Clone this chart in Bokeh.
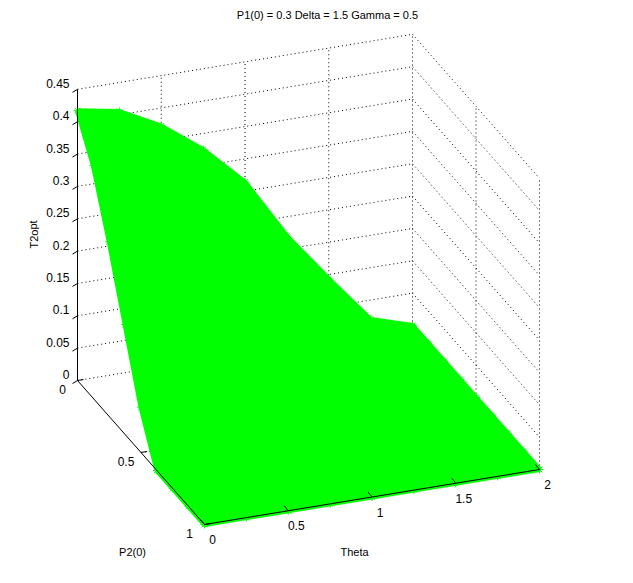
from bokeh.plotting import figure
from bokeh.models import Range1d
from bokeh.core.properties import value
from bokeh.embed import file_html
from bokeh.resources import INLINE

theta_vals = [0, 0.25, 0.5, 0.75, 1.0, 1.25, 1.5, 1.75, 2.0]
p2_vals = [0, 0.125, 0.25, 0.375, 0.5, 0.625, 0.75, 0.875, 1.0]
# T2opt[i][j]: i over theta_vals, j over p2_vals
t2opt = [
    [0.417, 0.36, 0.27, 0.17, 0.07, 0, 0, 0, 0],
    [0.405, 0.34, 0.235, 0.125, 0.01, 0, 0, 0, 0],
    [0.372, 0.31, 0.19, 0.06, 0, 0, 0, 0, 0],
    [0.325, 0.26, 0.12, 0, 0, 0, 0, 0, 0],
    [0.264, 0.16, 0.03, 0, 0, 0, 0, 0, 0],
    [0.17, 0.065, 0, 0, 0, 0, 0, 0, 0],
    [0.093, 0, 0, 0, 0, 0, 0, 0, 0],
    [0.02, 0, 0, 0, 0, 0, 0, 0, 0],
    [0, 0, 0, 0, 0, 0, 0, 0, 0],
]
z_ticks = [0, 0.05, 0.1, 0.15, 0.2, 0.25, 0.3, 0.35, 0.4, 0.45]
z_labels = ["0", "0.05", "0.1", "0.15", "0.2", "0.25", "0.3", "0.35", "0.4", "0.45"]
theta_ticks = [0, 0.5, 1, 1.5, 2]
theta_labels = ["0", "0.5", "1", "1.5", "2"]
p2_ticks = [0, 0.5, 1]
p2_labels = ["0", "0.5", "1"]

FONT = value("Liberation Sans")
GREEN = "#00ff00"


def proj(t, p, z):
    return 80 + 167.5 * t + 127 * p, 378 - 27.5 * t + 144 * p - 647 * z


p = figure(width=617, height=567, output_backend="svg", toolbar_location=None,
           x_range=Range1d(3, 620), y_range=Range1d(565, -2), min_border=0)
p.axis.visible = False
p.grid.visible = False
p.outline_line_color = None


def seg(a, b, dash="1 3", color="black"):
    x0, y0 = proj(*a)
    x1, y1 = proj(*b)
    p.line([x0, x1], [y0, y1], line_color=color, line_width=1, line_dash=dash)


# dotted grid on the back walls and floor
for z in z_ticks:
    seg((0, 0, z), (2, 0, z))
    seg((2, 0, z), (2, 1, z))
for t in theta_ticks[1:]:
    seg((t, 0, 0), (t, 0, 0.45))
    seg((t, 0, 0), (t, 1, 0))
for pv in p2_ticks[1:]:
    seg((2, pv, 0), (2, pv, 0.45))
    seg((0, pv, 0), (2, pv, 0))

# surface
xs, ys = [], []
for i in range(len(theta_vals) - 1):
    for j in range(len(p2_vals) - 1):
        corners = [(i, j), (i + 1, j), (i + 1, j + 1), (i, j + 1)]
        pts = [proj(theta_vals[a], p2_vals[b], t2opt[a][b]) for a, b in corners]
        xs.append([q[0] for q in pts])
        ys.append([q[1] for q in pts])
p.patches(xs, ys, fill_color=GREEN, line_color=GREEN, line_width=5)
mx, my = [], []
for i, t in enumerate(theta_vals):
    for j, pv in enumerate(p2_vals):
        x, y = proj(t, pv, t2opt[i][j])
        mx.append(x)
        my.append(y)
p.scatter(mx, my, marker="asterisk", size=8, line_color=GREEN)

# solid axes
seg((0, 0, 0), (0, 0, 0.45), dash="solid")
seg((0, 0, 0), (0, 1, 0), dash="solid")
seg((0, 1, 0), (2, 1, 0), dash="solid")

for z, lab in zip(z_ticks, z_labels):
    x, y = proj(0, 0, z)
    p.line([x, x - 5], [y, y + 3], line_color="black")
    p.text([x - 8], [y - 6], text=[lab], text_align="right", text_baseline="middle",
           text_font=FONT, text_font_size="12px")
for t, lab in zip(theta_ticks, theta_labels):
    x, y = proj(t, 1, 0)
    p.line([x, x - 4], [y, y - 5], line_color="black")
    p.text([x + 8], [y + 15], text=[lab], text_align="center", text_baseline="middle",
           text_font=FONT, text_font_size="12px")
for pv, lab in zip(p2_ticks, p2_labels):
    x, y = proj(0, pv, 0)
    p.line([x, x + 6], [y, y - 1], line_color="black")
    p.text([x - 15], [y + 9], text=[lab], text_align="center", text_baseline="middle",
           text_font=FONT, text_font_size="12px")

p.text([330], [12], text=["P1(0) = 0.3 Delta = 1.5 Gamma = 0.5"], text_align="center",
       text_baseline="middle", text_font=FONT, text_font_size="11px")
p.text([357], [549], text=["Theta"], text_align="center", text_baseline="middle",
       text_font=FONT, text_font_size="11px")
p.text([135], [549], text=["P2(0)"], text_align="center", text_baseline="middle",
       text_font=FONT, text_font_size="11px")
p.text([36], [232], text=["T2opt"], angle=1.5708, text_align="center",
       text_baseline="middle", text_font=FONT, text_font_size="11px")

open("out.html", "w").write(file_html(p, INLINE))
